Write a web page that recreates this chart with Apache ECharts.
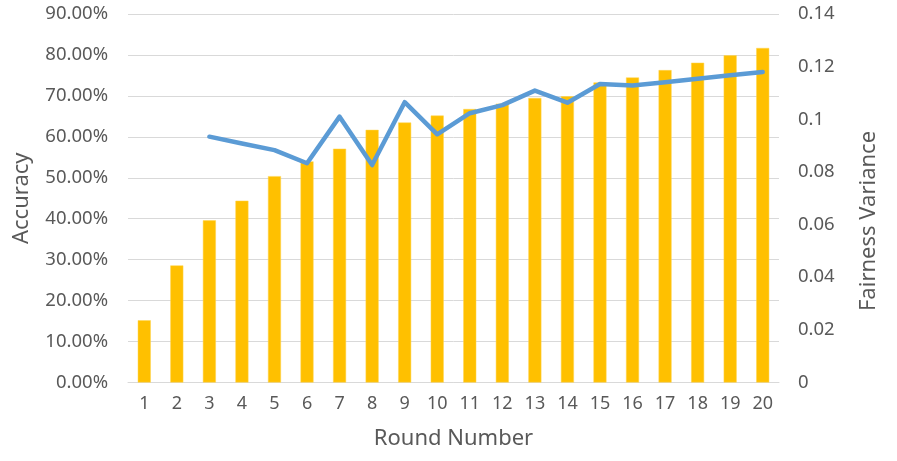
<!DOCTYPE html>
<html><head><meta charset="utf-8">
<script src="https://cdn.jsdelivr.net/npm/echarts@6/dist/echarts.min.js"></script>
<style>html,body{margin:0;padding:0;background:#fff}#c{width:897px;height:461px}</style>
</head><body><div id="c"></div>
<script>
const rounds = ['1','2','3','4','5','6','7','8','9','10','11','12','13','14','15','16','17','18','19','20'];
const accuracy = [15.2, 28.6, 39.6, 44.4, 50.4, 54.0, 57.1, 61.7, 63.5, 65.2, 66.8, 68.1, 69.5, 69.9, 73.3, 74.5, 76.3, 78.1, 79.9, 81.7];
const fairness = [null, null, 0.0934, 0.0908, 0.0883, 0.0833, 0.1010, 0.0826, 0.1065, 0.0943, 0.1023, 0.1054, 0.1109, 0.1063, 0.1134, 0.1128, 0.1141, 0.1154, 0.1167, 0.1180];
const accTicks = {min: 0, max: 90, interval: 10};
const fairTicks = {min: 0, max: 0.14, interval: 0.02};

const txt = '#595959';
const font = 'Noto Sans';
const chart = echarts.init(document.getElementById('c'));
chart.setOption({
  animation: false,
  textStyle: {fontFamily: font},
  grid: {left: 128, right: 118, top: 14, bottom: 78.5},
  xAxis: {
    type: 'category', data: rounds,
    axisLine: {show: true, lineStyle: {color: '#D9D9D9', width: 1}},
    axisTick: {show: false},
    axisLabel: {color: txt, fontSize: 18, margin: 12, fontFamily: font},
    name: 'Round Number', nameLocation: 'middle', nameGap: 45,
    nameTextStyle: {color: txt, fontSize: 22, fontFamily: font}
  },
  yAxis: [{
    type: 'value', min: accTicks.min, max: accTicks.max, interval: accTicks.interval,
    axisLine: {show: false}, axisTick: {show: false},
    axisLabel: {color: txt, fontSize: 18.5, margin: 20, fontFamily: font,
      formatter: v => v.toFixed(2) + '%'},
    splitLine: {lineStyle: {color: '#D9D9D9', width: 1}},
    name: 'Accuracy', nameLocation: 'middle', nameGap: 95,
    nameTextStyle: {color: txt, fontSize: 22, fontFamily: font}
  }, {
    type: 'value', min: fairTicks.min, max: fairTicks.max, interval: fairTicks.interval,
    axisLine: {show: false}, axisTick: {show: false},
    axisLabel: {color: txt, fontSize: 18.5, margin: 19, fontFamily: font},
    splitLine: {show: false}
  }],
  graphic: [{
    type: 'text', x: 869, y: 221, rotation: Math.PI / 2,
    style: {text: 'Fairness Variance', fill: txt, font: '22px "Noto Sans"',
      textAlign: 'center', textVerticalAlign: 'middle'}
  }],
  series: [{
    type: 'bar', data: accuracy, yAxisIndex: 0, barWidth: 13,
    itemStyle: {color: '#FFC000', borderColor: '#FFD54F', borderWidth: 0.5}
  }, {
    type: 'line', data: fairness, yAxisIndex: 1, showSymbol: false, symbol: 'none',
    connectNulls: false,
    lineStyle: {color: '#5B9BD5', width: 4.5, join: 'round', cap: 'round'}
  }]
});
</script></body></html>
